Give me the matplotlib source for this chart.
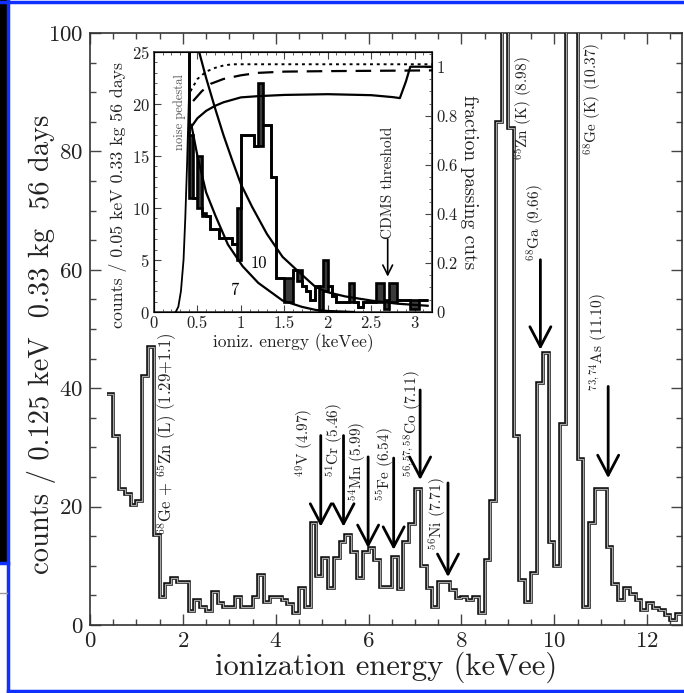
import numpy as np
import matplotlib
matplotlib.use('Agg')
import matplotlib.pyplot as plt
from matplotlib.ticker import MultipleLocator
from matplotlib.patches import Rectangle
from matplotlib.lines import Line2D

plt.rcParams['font.family'] = ['cmr10', 'DejaVu Serif']
plt.rcParams['mathtext.fontset'] = 'cm'
plt.rcParams['axes.formatter.use_mathtext'] = True

# ---------------- data: main spectrum (0.125 keV bins) ----------------
main_start = 0.375
main_width = 0.125
main_counts = [39, 32, 23, 22.2, 20.3, 21, 42, 47, 15.2,
               4.8, 7.0, 7.9, 7.3, 7.3, 2.3, 4.2, 3.1, 2.3, 5.6, 3.8, 3.1,
               3.1, 4.8, 3.1, 3.1, 4.8, 8.5, 3.9, 4.8, 4.8, 4.2, 3.5, 2.0,
               6.2, 3.1, 17.2, 8.2, 11.3, 6.2, 11.3, 14.1, 15.2, 12.4, 7.9,
               12.4, 13, 11, 6.5, 6.5, 11.5, 6, 14, 17, 23, 10, 6.2, 3.1,
               7.3, 7.3, 5.9, 4.5, 4.8, 4.2, 4.8, 2.0, 11, 21, 85, 150, 84,
               32, 7.6, 3.9, 8.7, 40.8, 46, 14.1, 9.9, 34, 150, 150, 28,
               3.1, 17.2, 23, 23, 13.2, 7.0, 4.2, 6.2, 5.3, 4.2, 2.5, 3.7,
               2.8, 2.5, 1.7, 0.8, 1.8]

# line labels: (text, text x, text y anchor, va, fontsize, arrow x, arrow top, arrow tip)
line_labels = [
    (r'$^{68}$Ge + $^{65}$Zn (L) (1.29+1.1)', 1.66, 15.2, 'bottom', 12, None, None, None),
    (r'$^{49}$V (4.97)', 4.62, 25.0, 'bottom', 11, 4.97, 32.0, 16.6),
    (r'$^{51}$Cr (5.46)', 5.28, 25.0, 'bottom', 11, 5.46, 32.0, 16.6),
    (r'$^{54}$Mn (5.99)', 5.76, 21.0, 'bottom', 11, 5.99, 28.4, 13.0),
    (r'$^{55}$Fe (6.54)', 6.36, 21.0, 'bottom', 11, 6.54, 28.2, 12.7),
    (r'$^{56,57,58}$Co (7.11)', 6.95, 25.0, 'bottom', 11, 7.11, 39.7, 24.5),
    (r'$^{56}$Ni (7.71)', 7.50, 12.7, 'bottom', 11, 7.71, 24.0, 8.1),
    (r'$^{65}$Zn (K) (8.98)', 9.34, 96.0, 'top', 11, None, None, None),
    (r'$^{68}$Ga (9.66)', 9.60, 61.5, 'bottom', 11, 9.70, 61.7, 46.5),
    (r'$^{68}$Ge (K) (10.37)', 10.84, 98.3, 'top', 11, None, None, None),
    (r'$^{73,74}$As (11.10)', 10.97, 39.5, 'bottom', 11, 11.16, 40.3, 24.8),
]

# ---------------- data: inset (0.05 keV bins) ----------------
inset_start = 0.35
inset_width = 0.05
inset_upper = [30, 17, 11, 15, 9.5, 9.2, 8, 8, 7.1, 7.1, 7.1, 6.5, 10, 17, 17,
               17, 16, 22, 18, 18, 13, 3.3, 3.3, 3.3, 3.3, 4, 4, 2.5, 2, 1.2,
               2.5, 2.5, 5, 2.5, 1.5, 1, 1, 1, 2.8, 1, 0.5, 1, 1, 1, 2.8, 2.8,
               1.2, 2.8, 2.8, 1.2, 1.2, 1.2, 1.2, 1.2, 1.2, 1.2]
inset_lower = [30, 11, 11, 10, 9.2, 9.2, 8, 8, 7.1, 7.1, 7.1, 6.5, 5, 17, 17,
               17, 16, 16, 18, 18, 13, 3.3, 3.3, 1, 1, 4, 3, 2.5, 2, 1.2,
               2.5, 0.2, 2, 2.5, 1.5, 1, 1, 1, 1, 1, 0.5, 1, 1, 1, 1, 1,
               0.3, 1, 1, 1.2, 1.2, 1.2, 0.3, 0.3, 1.2, 1.2]

rise_E = [0.25, 0.28, 0.31, 0.34, 0.36, 0.38, 0.40, 0.415]
rise_y = [0, 0.5, 2, 5, 9, 14, 20, 25]
curve7_E = [0.43, 0.5, 0.6, 0.71, 0.85, 1.02, 1.2, 1.48, 1.7, 1.86, 2.0, 2.3]
curve7_y = [18, 15, 11.5, 9.2, 6.5, 4.4, 2.8, 1.1, 0.5, 0.2, 0.1, 0]
curve10_E = [0.52, 0.6, 0.71, 0.8, 0.9, 1.0, 1.13, 1.3, 1.48, 1.7, 1.86, 2.0,
             2.2, 2.5, 2.8, 3.15]
curve10_y = [25, 22.5, 19.4, 17, 14.6, 12.3, 10.1, 7.5, 5.3, 3.6, 2.4, 1.9,
             1.5, 1.1, 0.8, 0.6]
eff_solid_E = [0.43, 0.5, 0.6, 0.7, 0.8, 0.9, 1.0, 1.2, 1.5, 2.0, 2.5, 2.75,
               2.83, 2.9, 2.95, 3.2]
eff_solid_f = [0.755, 0.79, 0.82, 0.84, 0.855, 0.865, 0.875, 0.88, 0.885,
               0.888, 0.884, 0.876, 0.872, 0.94, 1.0, 1.0]
eff_dash_E = [0.45, 0.55, 0.65, 0.8, 1.0, 1.2, 1.5, 2.0, 3.2]
eff_dash_f = [0.86, 0.9, 0.93, 0.95, 0.965, 0.975, 0.98, 0.982, 0.985]
eff_dot_E = [0.42, 0.5, 0.6, 0.7, 0.8, 0.9, 1.0, 3.2]
eff_dot_f = [0.9, 0.95, 0.98, 0.995, 1.005, 1.01, 1.01, 1.01]

# ---------------- figure ----------------
W, H = 684, 693
fig = plt.figure(figsize=(W / 100, H / 100), dpi=100)

# slide frame decorations
fig.patches.append(Rectangle((0, 1 - 563 / H), 7 / W, 563 / H,
                             transform=fig.transFigure, color='black', zorder=0))
for (x0, y0, x1, y1) in [(0, 1 - 2 / H, 1, 1 - 2 / H),
                         (8 / W, 0, 8 / W, 1),
                         (8 / W, 2.5 / H, 1, 2.5 / H),
                         (0, 1 - 563 / H, 8 / W, 1 - 563 / H)]:
    fig.add_artist(Line2D([x0, x1], [y0, y1], transform=fig.transFigure,
                          color='#1030ff', lw=2.5))
fig.add_artist(Line2D([0, 7 / W], [1 - 593 / H, 1 - 593 / H],
                      transform=fig.transFigure, color='#999999', lw=1))

def px(x0, y0, x1, y1):
    return [x0 / W, 1 - y1 / H, (x1 - x0) / W, (y1 - y0) / H]

ax = fig.add_axes(px(90, 33, 682, 625))
edges = main_start + main_width * np.arange(len(main_counts) + 1)
ax.stairs(main_counts, edges, baseline=None, color='#111111', lw=2.6, zorder=3)
ax.stairs(main_counts, edges, baseline=None, color='#a8a8a8', lw=0.9, zorder=4)
ax.set_xlim(0, 12.75)
ax.set_ylim(0, 100)
ax.xaxis.set_major_locator(MultipleLocator(2))
ax.xaxis.set_minor_locator(MultipleLocator(0.5))
ax.yaxis.set_major_locator(MultipleLocator(20))
ax.yaxis.set_minor_locator(MultipleLocator(5))
ax.tick_params(which='both', direction='in', top=True, right=True,
               labelsize=16.5, width=1, colors='#444444', labelcolor='#222222')
ax.tick_params(which='major', length=8, pad=5)
ax.tick_params(which='minor', length=4)
for s in ax.spines.values():
    s.set_linewidth(1.2)
    s.set_color('#333333')
ax.set_xlabel('ionization energy (keVee)', fontsize=22, labelpad=0,
              color='#222222')
fig.text(42 / W, 1 - 344 / H, 'counts / 0.125 keV  0.33 kg  56 days',
         rotation=90, fontsize=20.5, ha='center', va='center', color='#222222')

for (txt, tx, ty, va, fs, axx, atop, atip) in line_labels:
    ax.text(tx, ty, txt, rotation=90, fontsize=fs, ha='center', va=va,
            color='#222222', zorder=6)
    if axx is not None:
        ax.annotate('', xy=(axx, atip), xytext=(axx, atop),
                    arrowprops=dict(arrowstyle='->,head_length=0.8,head_width=0.42',
                                    lw=2.0, color='black', shrinkA=0, shrinkB=0,
                                    mutation_scale=18), zorder=6)

# ---------------- inset ----------------
ai = fig.add_axes(px(154, 52, 432, 312))
ai.set_facecolor('white')
iedges = inset_start + inset_width * np.arange(len(inset_upper) + 1)
ai.stairs(inset_upper, iedges, baseline=np.array(inset_lower), fill=True,
          color='#3a3a3a', zorder=2)
ai.stairs(inset_upper, iedges, baseline=None, color='black', lw=1.9, zorder=3)
ai.stairs(inset_lower, iedges, baseline=None, color='black', lw=1.9, zorder=3)
ai.plot(rise_E, rise_y, color='black', lw=1.3, zorder=4)
ai.plot(curve7_E, curve7_y, color='black', lw=1.6, zorder=4)
ai.plot(curve10_E, curve10_y, color='black', lw=1.6, zorder=4)
ai.set_xlim(0, 3.2)
ai.set_ylim(0, 25)
ai.xaxis.set_major_locator(MultipleLocator(0.5))
ai.xaxis.set_minor_locator(MultipleLocator(0.1))
ai.yaxis.set_major_locator(MultipleLocator(5))
ai.yaxis.set_minor_locator(MultipleLocator(1))
ai.tick_params(which='both', direction='in', top=True, labelsize=12,
               colors='#444444', labelcolor='#222222', pad=3)
ai.tick_params(which='major', length=5)
ai.tick_params(which='minor', length=2.5)
ai.set_xticks([0, 0.5, 1, 1.5, 2, 2.5, 3])
ai.set_xticklabels(['0', '0.5', '1', '1.5', '2', '2.5', '3'])
ai.set_xlabel('ioniz. energy (keVee)', fontsize=12.5, labelpad=1,
              color='#222222')
fig.text(118 / W, 1 - 195 / H, 'counts / 0.05 keV 0.33 kg 56 days',
         rotation=90, fontsize=12.8, ha='center', va='center', color='#222222')
for s in ai.spines.values():
    s.set_linewidth(1.2)
    s.set_color('#333333')

ar = ai.twinx()
ar.plot(eff_solid_E, eff_solid_f, color='black', lw=1.6)
ar.plot(eff_dash_E, eff_dash_f, color='black', lw=1.6, ls=(0, (7, 4)))
ar.plot(eff_dot_E, eff_dot_f, color='black', lw=1.4, ls=(0, (1.5, 2)))
ar.set_ylim(0, 1.06)
ar.yaxis.set_minor_locator(MultipleLocator(0.05))
ar.set_yticks([0, 0.2, 0.4, 0.6, 0.8, 1.0])
ar.set_yticklabels(['0', '0.2', '0.4', '0.6', '0.8', '1'])
ar.tick_params(which='both', direction='in', labelsize=12, colors='#444444',
               labelcolor='#222222', pad=3)
ar.tick_params(which='major', length=5)
ar.tick_params(which='minor', length=2.5)
ar.set_ylabel('fraction passing cuts', rotation=270, fontsize=14, labelpad=15,
              color='#222222')

ai.text(0.29, 19.2, 'noise pedestal', rotation=90, fontsize=9, ha='center',
        va='center', color='#555555', zorder=5)
ai.text(1.21, 4.7, '10', fontsize=12, ha='center', va='center', zorder=5)
ai.text(0.92, 2.1, '7', fontsize=12, ha='center', va='center', zorder=5)
ai.text(2.69, 7.0, 'CDMS threshold', rotation=90, fontsize=11, ha='center',
        va='bottom', color='#222222', zorder=5)
ai.annotate('', xy=(2.69, 3.4), xytext=(2.69, 7.0),
            arrowprops=dict(arrowstyle='->,head_length=0.5,head_width=0.25',
                            lw=1.2, color='black', shrinkA=0, shrinkB=0,
                            mutation_scale=14), zorder=5)

fig.savefig('out.png', dpi=100)
